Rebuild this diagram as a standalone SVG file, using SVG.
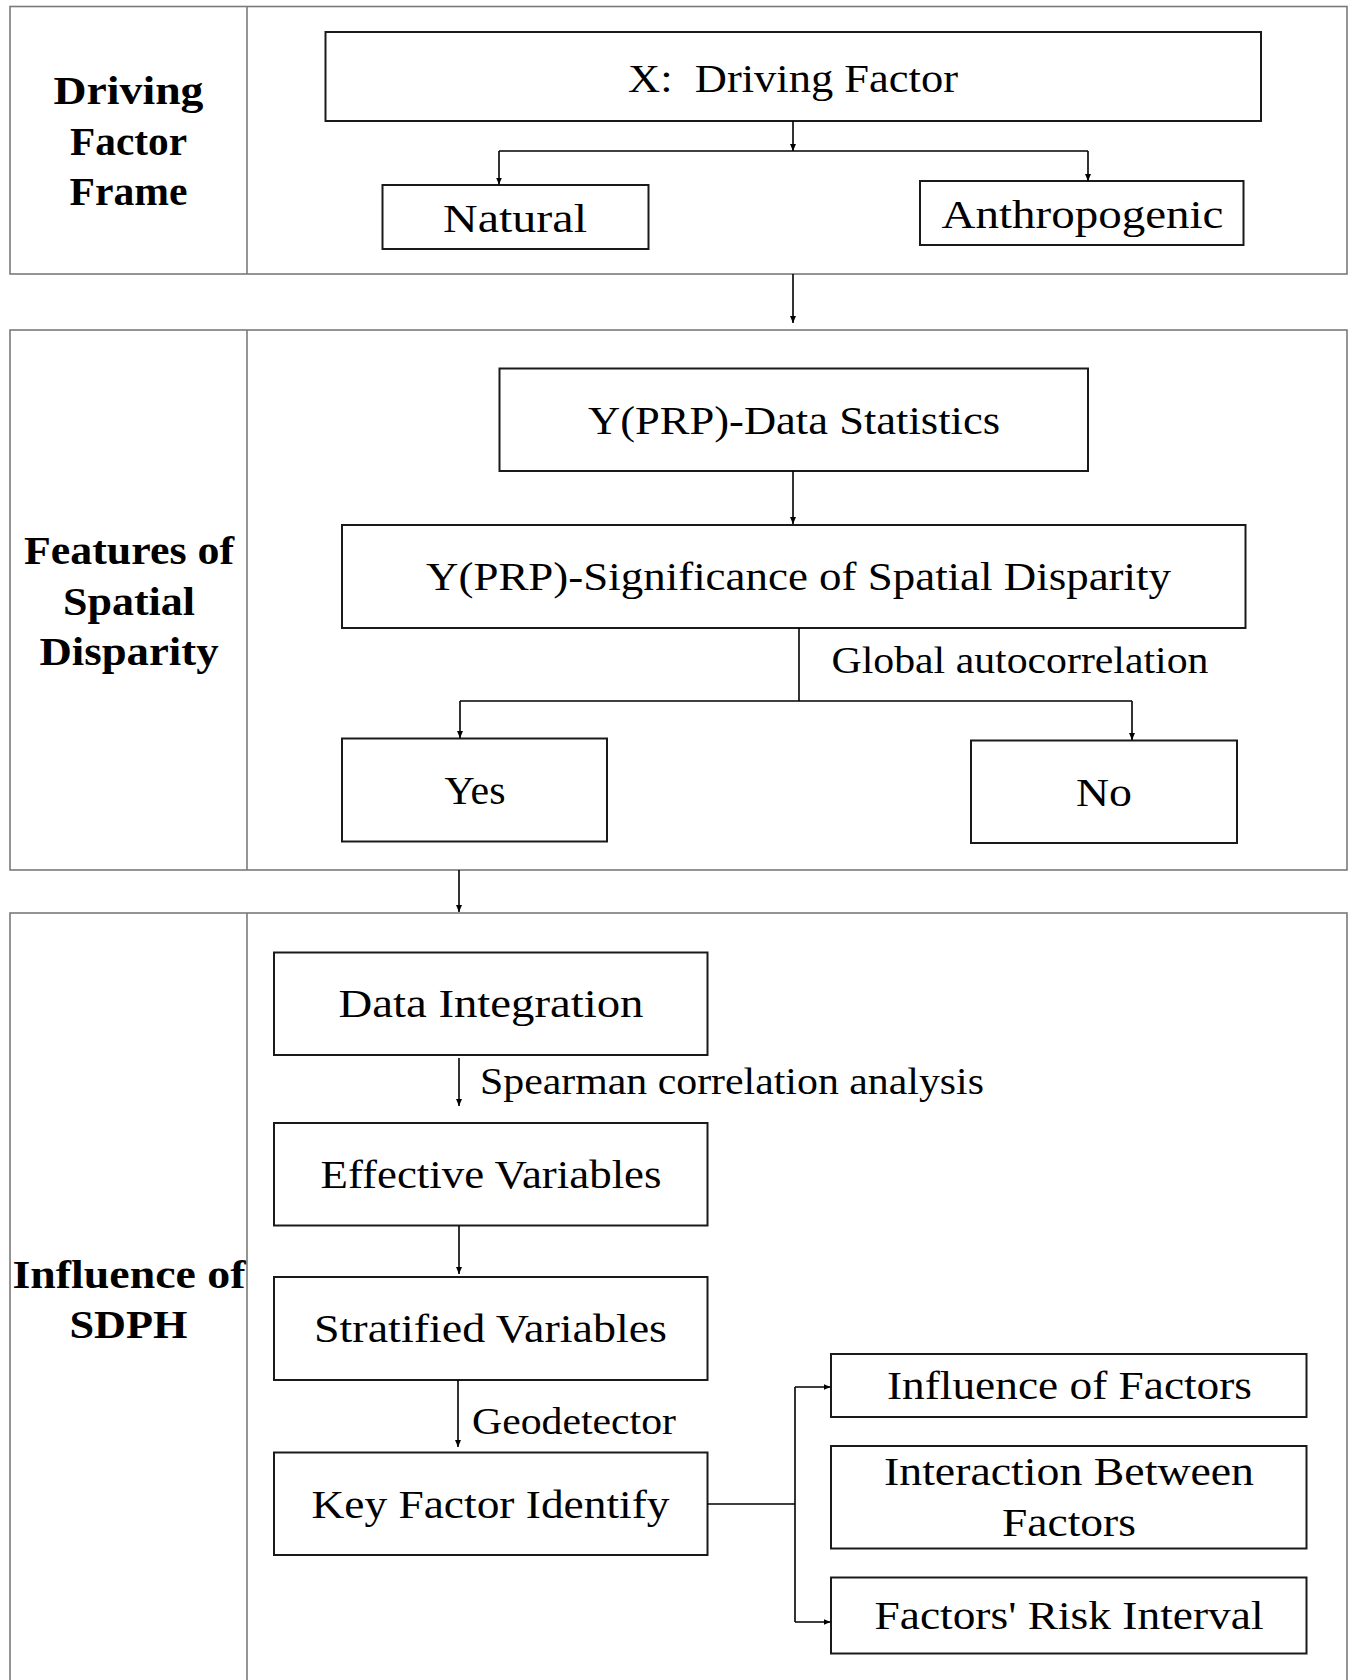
<svg xmlns="http://www.w3.org/2000/svg" width="1351" height="1680" viewBox="0 0 1351 1680">
<style>
.frame{fill:none;stroke:#7a7a7a;stroke-width:1.6}
.box{fill:#fff;stroke:#1a1a1a;stroke-width:2}
.t{font-family:"Liberation Serif","Times New Roman",serif;font-size:40px;fill:#000;text-anchor:middle;white-space:pre}
.lbl{font-family:"Liberation Serif","Times New Roman",serif;font-size:37px;fill:#000;white-space:pre}
.h{font-family:"Liberation Serif","Times New Roman",serif;font-size:40px;font-weight:bold;fill:#000;text-anchor:middle}
.c{fill:none;stroke:#000;stroke-width:1.6}
</style>
<defs>
<marker id="ah" markerWidth="8" markerHeight="8" refX="7" refY="4" orient="auto" markerUnits="userSpaceOnUse">
<path d="M0,1 L7,4 L0,7 z" fill="#000"/>
</marker>
</defs>
<rect width="1351" height="1680" fill="#fff"/>

<g id="frame-driving">
<rect class="frame" x="10" y="6.5" width="1337" height="267.5"/>
<line class="frame" x1="247" y1="6.5" x2="247" y2="274"/>
<text class="h" x="128.5" y="104" textLength="150" lengthAdjust="spacingAndGlyphs">Driving</text>
<text class="h" x="128.5" y="155" textLength="117" lengthAdjust="spacingAndGlyphs">Factor</text>
<text class="h" x="128.5" y="205" textLength="118" lengthAdjust="spacingAndGlyphs">Frame</text>
</g>
<g id="frame-features">
<rect class="frame" x="10" y="330" width="1337" height="540"/>
<line class="frame" x1="247" y1="330" x2="247" y2="870"/>
<text class="h" x="129" y="564" textLength="210" lengthAdjust="spacingAndGlyphs">Features of</text>
<text class="h" x="129" y="615" textLength="132" lengthAdjust="spacingAndGlyphs">Spatial</text>
<text class="h" x="129" y="665" textLength="179" lengthAdjust="spacingAndGlyphs">Disparity</text>
</g>
<g id="frame-influence">
<rect class="frame" x="10" y="913" width="1337" height="780"/>
<line class="frame" x1="247" y1="913" x2="247" y2="1690"/>
<text class="h" x="129" y="1288" textLength="233" lengthAdjust="spacingAndGlyphs">Influence of</text>
<text class="h" x="128.5" y="1338" textLength="118" lengthAdjust="spacingAndGlyphs">SDPH</text>
</g>

<g id="node-x">
<rect class="box" x="325.5" y="32" width="935.5" height="89"/>
<text class="t" x="793" y="92" textLength="330" lengthAdjust="spacingAndGlyphs">X:  Driving Factor</text>
</g>
<g id="node-natural">
<rect class="box" x="382.5" y="185" width="266" height="64"/>
<text class="t" x="515" y="232" textLength="144" lengthAdjust="spacingAndGlyphs">Natural</text>
</g>
<g id="node-anthropogenic">
<rect class="box" x="920" y="181" width="323.5" height="64"/>
<text class="t" x="1082.5" y="228" textLength="282" lengthAdjust="spacingAndGlyphs">Anthropogenic</text>
</g>
<g id="node-data-statistics">
<rect class="box" x="499.5" y="368.5" width="588.5" height="102.5"/>
<text class="t" x="794" y="434" textLength="412" lengthAdjust="spacingAndGlyphs">Y(PRP)-Data Statistics</text>
</g>
<g id="node-significance">
<rect class="box" x="342" y="525" width="903.5" height="103"/>
<text class="t" x="798.5" y="590" textLength="745" lengthAdjust="spacingAndGlyphs">Y(PRP)-Significance of Spatial Disparity</text>
</g>
<g id="node-yes">
<rect class="box" x="342" y="738.5" width="265" height="103"/>
<text class="t" x="475" y="804" textLength="61" lengthAdjust="spacingAndGlyphs">Yes</text>
</g>
<g id="node-no">
<rect class="box" x="971" y="740.5" width="266" height="102.5"/>
<text class="t" x="1104" y="806" textLength="56" lengthAdjust="spacingAndGlyphs">No</text>
</g>
<g id="node-data-integration">
<rect class="box" x="274" y="952.5" width="433.5" height="102.5"/>
<text class="t" x="491" y="1017" textLength="305" lengthAdjust="spacingAndGlyphs">Data Integration</text>
</g>
<g id="node-effective">
<rect class="box" x="274" y="1123" width="433.5" height="102.5"/>
<text class="t" x="491" y="1188" textLength="341" lengthAdjust="spacingAndGlyphs">Effective Variables</text>
</g>
<g id="node-stratified">
<rect class="box" x="274" y="1277" width="433.5" height="103"/>
<text class="t" x="490.5" y="1342" textLength="353" lengthAdjust="spacingAndGlyphs">Stratified Variables</text>
</g>
<g id="node-key-factor">
<rect class="box" x="274" y="1452.5" width="433.5" height="102.5"/>
<text class="t" x="490.5" y="1518" textLength="358" lengthAdjust="spacingAndGlyphs">Key Factor Identify</text>
</g>
<g id="node-influence-factors">
<rect class="box" x="831" y="1354" width="475.5" height="63"/>
<text class="t" x="1069.5" y="1399" textLength="365" lengthAdjust="spacingAndGlyphs">Influence of Factors</text>
</g>
<g id="node-interaction">
<rect class="box" x="831" y="1446" width="475.5" height="102.5"/>
<text class="t" x="1069" y="1485" textLength="370" lengthAdjust="spacingAndGlyphs">Interaction Between</text>
<text class="t" x="1069" y="1536" textLength="134" lengthAdjust="spacingAndGlyphs">Factors</text>
</g>
<g id="node-risk">
<rect class="box" x="831" y="1577.5" width="475.5" height="76"/>
<text class="t" x="1069" y="1629" textLength="389" lengthAdjust="spacingAndGlyphs">Factors' Risk Interval</text>
</g>

<g id="connectors">
<path class="c" d="M793,121 V151" marker-end="url(#ah)"/>
<path class="c" d="M499,151 H1088"/>
<path class="c" d="M499,151 V184.5" marker-end="url(#ah)"/>
<path class="c" d="M1088,151 V181" marker-end="url(#ah)"/>
<path class="c" d="M793,274 V323" marker-end="url(#ah)"/>
<path class="c" d="M793,471 V524" marker-end="url(#ah)"/>
<path class="c" d="M799,628 V701"/>
<path class="c" d="M460,701 H1132"/>
<path class="c" d="M460,701 V738" marker-end="url(#ah)"/>
<path class="c" d="M1132,701 V740" marker-end="url(#ah)"/>
<text class="lbl" x="831.5" y="673" textLength="377" lengthAdjust="spacingAndGlyphs">Global autocorrelation</text>
<path class="c" d="M459,870 V912" marker-end="url(#ah)"/>
<path class="c" d="M459,1058 V1106" marker-end="url(#ah)"/>
<text class="lbl" x="480" y="1094" textLength="504" lengthAdjust="spacingAndGlyphs">Spearman correlation analysis</text>
<path class="c" d="M459,1226 V1274" marker-end="url(#ah)"/>
<path class="c" d="M458,1380 V1447" marker-end="url(#ah)"/>
<text class="lbl" x="472" y="1434" textLength="204" lengthAdjust="spacingAndGlyphs">Geodetector</text>
<path class="c" d="M707.5,1504 H795"/>
<path class="c" d="M795,1387 V1622"/>
<path class="c" d="M795,1387 H830.5" marker-end="url(#ah)"/>
<path class="c" d="M795,1622 H830.5" marker-end="url(#ah)"/>
</g>
</svg>
